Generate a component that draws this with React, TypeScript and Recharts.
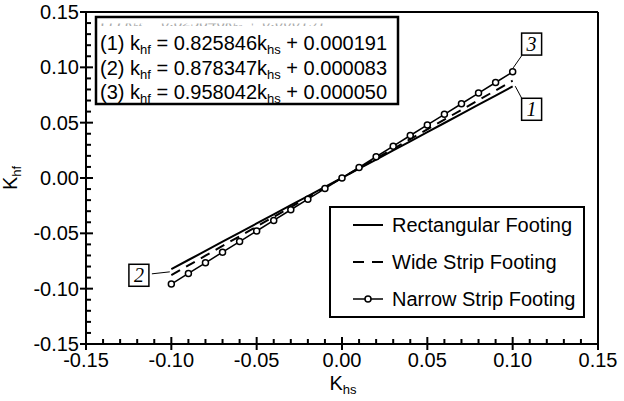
import React from 'react';
import { LineChart, Line, XAxis, YAxis, ReferenceLine, ReferenceDot, Legend } from 'recharts';

// ---- data ----
const khs = [-0.10, -0.09, -0.08, -0.07, -0.06, -0.05, -0.04, -0.03, -0.02, -0.01, 0.0, 0.01, 0.02, 0.03, 0.04, 0.05, 0.06, 0.07, 0.08, 0.09, 0.10];
const rectangular = [-0.0824, -0.0741, -0.0659, -0.0576, -0.0494, -0.0411, -0.0328, -0.0246, -0.0163, -0.0081, 0.0002, 0.0084, 0.0167, 0.0250, 0.0332, 0.0415, 0.0497, 0.0580, 0.0663, 0.0745, 0.0828];
const wideStrip = [-0.0878, -0.0790, -0.0702, -0.0614, -0.0526, -0.0438, -0.0351, -0.0263, -0.0175, -0.0087, 0.0001, 0.0089, 0.0176, 0.0264, 0.0352, 0.0440, 0.0528, 0.0616, 0.0704, 0.0791, 0.0879];
const narrowStrip = [-0.0958, -0.0862, -0.0766, -0.0670, -0.0574, -0.0479, -0.0383, -0.0287, -0.0191, -0.0095, 0.0001, 0.0096, 0.0192, 0.0288, 0.0384, 0.0480, 0.0575, 0.0671, 0.0767, 0.0863, 0.0959];

const seriesNames = ['Rectangular Footing', 'Wide Strip Footing', 'Narrow Strip Footing'];
const eqIds = ['(1)', '(2)', '(3)'];
const eqSlopes = ['0.825846', '0.878347', '0.958042'];
const eqIntercepts = ['0.000191', '0.000083', '0.000050'];
const majorTickLabels = ['-0.15', '-0.10', '-0.05', '0.00', '0.05', '0.10', '0.15'];

const data = khs.map((x, i) => ({ x, rect: rectangular[i], wide: wideStrip[i], narrow: narrowStrip[i] }));
const allTicks = Array.from({ length: 31 }, (_, i) => (i - 15) / 100);
const majorValues = majorTickLabels.map(Number);

const FONT = '"Liberation Sans", Arial, sans-serif';
const SERIF = '"Liberation Serif", "Times New Roman", serif';

const isMajor = (v: number) => majorValues.some((m) => Math.abs(m - v) < 1e-6);
const labelFor = (v: number) => majorTickLabels[majorValues.findIndex((m) => Math.abs(m - v) < 1e-6)];

const XTick = (props: any) => {
  const { x, y, payload } = props;
  const major = isMajor(payload.value);
  return (
    <g>
      <line x1={x} x2={x} y1={major ? y - 7 : y - 5} y2={major ? y + 6 : y} stroke="#000" strokeWidth={2} />
      {major && (
        <text x={x} y={y + 23} textAnchor="middle" fontSize={20} fontFamily={FONT} fill="#000">
          {labelFor(payload.value)}
        </text>
      )}
    </g>
  );
};

const YTick = (props: any) => {
  const { x, y, payload } = props;
  const major = isMajor(payload.value);
  return (
    <g>
      <line x1={major ? x - 6 : x} x2={major ? x + 7 : x + 5} y1={y} y2={y} stroke="#000" strokeWidth={2} />
      {major && (
        <text x={x - 7} y={y + 7} textAnchor="end" fontSize={20} fontFamily={FONT} fill="#000">
          {labelFor(payload.value)}
        </text>
      )}
    </g>
  );
};

const BoxLabel = ({ cx, cy, text }: any) => (
  <g>
    <rect x={cx - 10} y={cy - 11} width={20} height={22} fill="#fff" stroke="#000" strokeWidth={1.5} />
    <text x={cx} y={cy + 7} textAnchor="middle" fontSize={20} fontStyle="italic" fontFamily={SERIF} fill="#000">
      {text}
    </text>
  </g>
);

const LegendBox = () => (
  <svg width={256} height={112} style={{ display: 'block' }}>
    <rect x={1} y={1} width={254} height={110} fill="#fff" stroke="#000" strokeWidth={2} />
    {seriesNames.map((name, i) => {
      const cy = 19 + i * 37;
      return (
        <g key={name}>
          <line
            x1={24}
            x2={54}
            y1={cy}
            y2={cy}
            stroke="#000"
            strokeWidth={i === 2 ? 1.5 : 2}
            strokeDasharray={i === 1 ? '11 8' : undefined}
          />
          {i === 2 && <circle cx={39} cy={cy} r={3} fill="#fff" stroke="#000" strokeWidth={1.5} />}
          <text x={63} y={cy + 7} fontSize={20} fontFamily={FONT} fill="#000">
            {name}
          </text>
        </g>
      );
    })}
  </svg>
);

const EquationBox = () => (
  <svg width={624} height={401} style={{ position: 'absolute', left: 0, top: 0, pointerEvents: 'none' }}>
    <defs>
      <clipPath id="ghostClip">
        <rect x={98} y={23.5} width={298} height={2.5} />
      </clipPath>
    </defs>
    <rect x={96} y={17} width={302} height={87} fill="#fff" stroke="#000" strokeWidth={2.5} />
    <text x={101} y={27} fontSize={17} fontStyle="italic" fontFamily={SERIF} fill="#aaa" clipPath="url(#ghostClip)">
      (1) k<tspan fontSize={11} dy={3}>hf</tspan><tspan dy={-3}> = 0.825846k</tspan>
      <tspan fontSize={11} dy={3}>hs</tspan><tspan dy={-3}> + 0.000191</tspan>
    </text>
    {eqIds.map((id, i) => (
      <text key={id} x={100} y={50 + i * 24.5} fontSize={20} fontFamily={FONT} fill="#000">
        {id} k<tspan fontSize={13} dy={4}>hf</tspan>
        <tspan dy={-4}> = {eqSlopes[i]}k</tspan>
        <tspan fontSize={13} dy={4}>hs</tspan>
        <tspan dy={-4}> + {eqIntercepts[i]}</tspan>
      </text>
    ))}
    <text x={17} y={178} transform="rotate(-90 17 178)" textAnchor="middle" fontSize={20} fontFamily={FONT} fill="#000">
      K<tspan fontSize={13} dy={4}>hf</tspan>
    </text>
    <text x={343} y={390} textAnchor="middle" fontSize={20} fontFamily={FONT} fill="#000">
      K<tspan fontSize={13} dy={4}>hs</tspan>
    </text>
  </svg>
);

export default function App() {
  return (
    <div style={{ position: 'absolute', left: 0, top: 0, width: 624, height: 401, background: '#fff' }}>
      <LineChart width={624} height={401} data={data} margin={{ top: 12, right: 26, bottom: 0, left: 0 }}>
        <XAxis
          dataKey="x"
          type="number"
          domain={[-0.15, 0.15]}
          ticks={allTicks}
          interval={0}
          tickSize={0}
          tickMargin={0}
          tickLine={false}
          tick={<XTick />}
          height={57}
          axisLine={{ stroke: '#000', strokeWidth: 2 }}
          allowDataOverflow
        />
        <YAxis
          type="number"
          domain={[-0.15, 0.15]}
          ticks={allTicks}
          interval={0}
          tickSize={0}
          tickMargin={0}
          tickLine={false}
          tick={<YTick />}
          width={86}
          axisLine={{ stroke: '#000', strokeWidth: 2 }}
          allowDataOverflow
        />
        <ReferenceLine y={0.15} stroke="#000" strokeWidth={2} />
        <ReferenceLine x={0.15} stroke="#000" strokeWidth={2} />
        <Line type="linear" dataKey="rect" name={seriesNames[0]} stroke="#000" strokeWidth={2} dot={false} isAnimationActive={false} />
        <Line type="linear" dataKey="wide" name={seriesNames[1]} stroke="#000" strokeWidth={2} strokeDasharray="10 7" dot={false} isAnimationActive={false} />
        <Line
          type="linear"
          dataKey="narrow"
          name={seriesNames[2]}
          stroke="#000"
          strokeWidth={1.5}
          dot={{ r: 3, fill: '#fff', stroke: '#000', strokeWidth: 1.5 }}
          isAnimationActive={false}
        />
        <ReferenceLine segment={[{ x: 0.1055, y: 0.111 }, { x: 0.1003, y: 0.0995 }]} stroke="#000" strokeWidth={1} />
        <ReferenceLine segment={[{ x: 0.1056, y: 0.0712 }, { x: 0.1015, y: 0.083 }]} stroke="#000" strokeWidth={1} />
        <ReferenceLine segment={[{ x: -0.1114, y: -0.0866 }, { x: -0.1009, y: -0.0848 }]} stroke="#000" strokeWidth={1} />
        <ReferenceDot x={0.1111} y={0.121} r={0} shape={(p: any) => <BoxLabel cx={p.cx} cy={p.cy} text="3" />} />
        <ReferenceDot x={0.1111} y={0.0621} r={0} shape={(p: any) => <BoxLabel cx={p.cx} cy={p.cy} text="1" />} />
        <ReferenceDot x={-0.119} y={-0.0879} r={0} shape={(p: any) => <BoxLabel cx={p.cx} cy={p.cy} text="2" />} />
        <Legend
          layout="vertical"
          align="center"
          verticalAlign="middle"
          content={() => <LegendBox />}
          wrapperStyle={{ position: 'absolute', left: 329, top: 206, width: 256, height: 112, margin: 0 }}
        />
      </LineChart>
      <EquationBox />
    </div>
  );
}
